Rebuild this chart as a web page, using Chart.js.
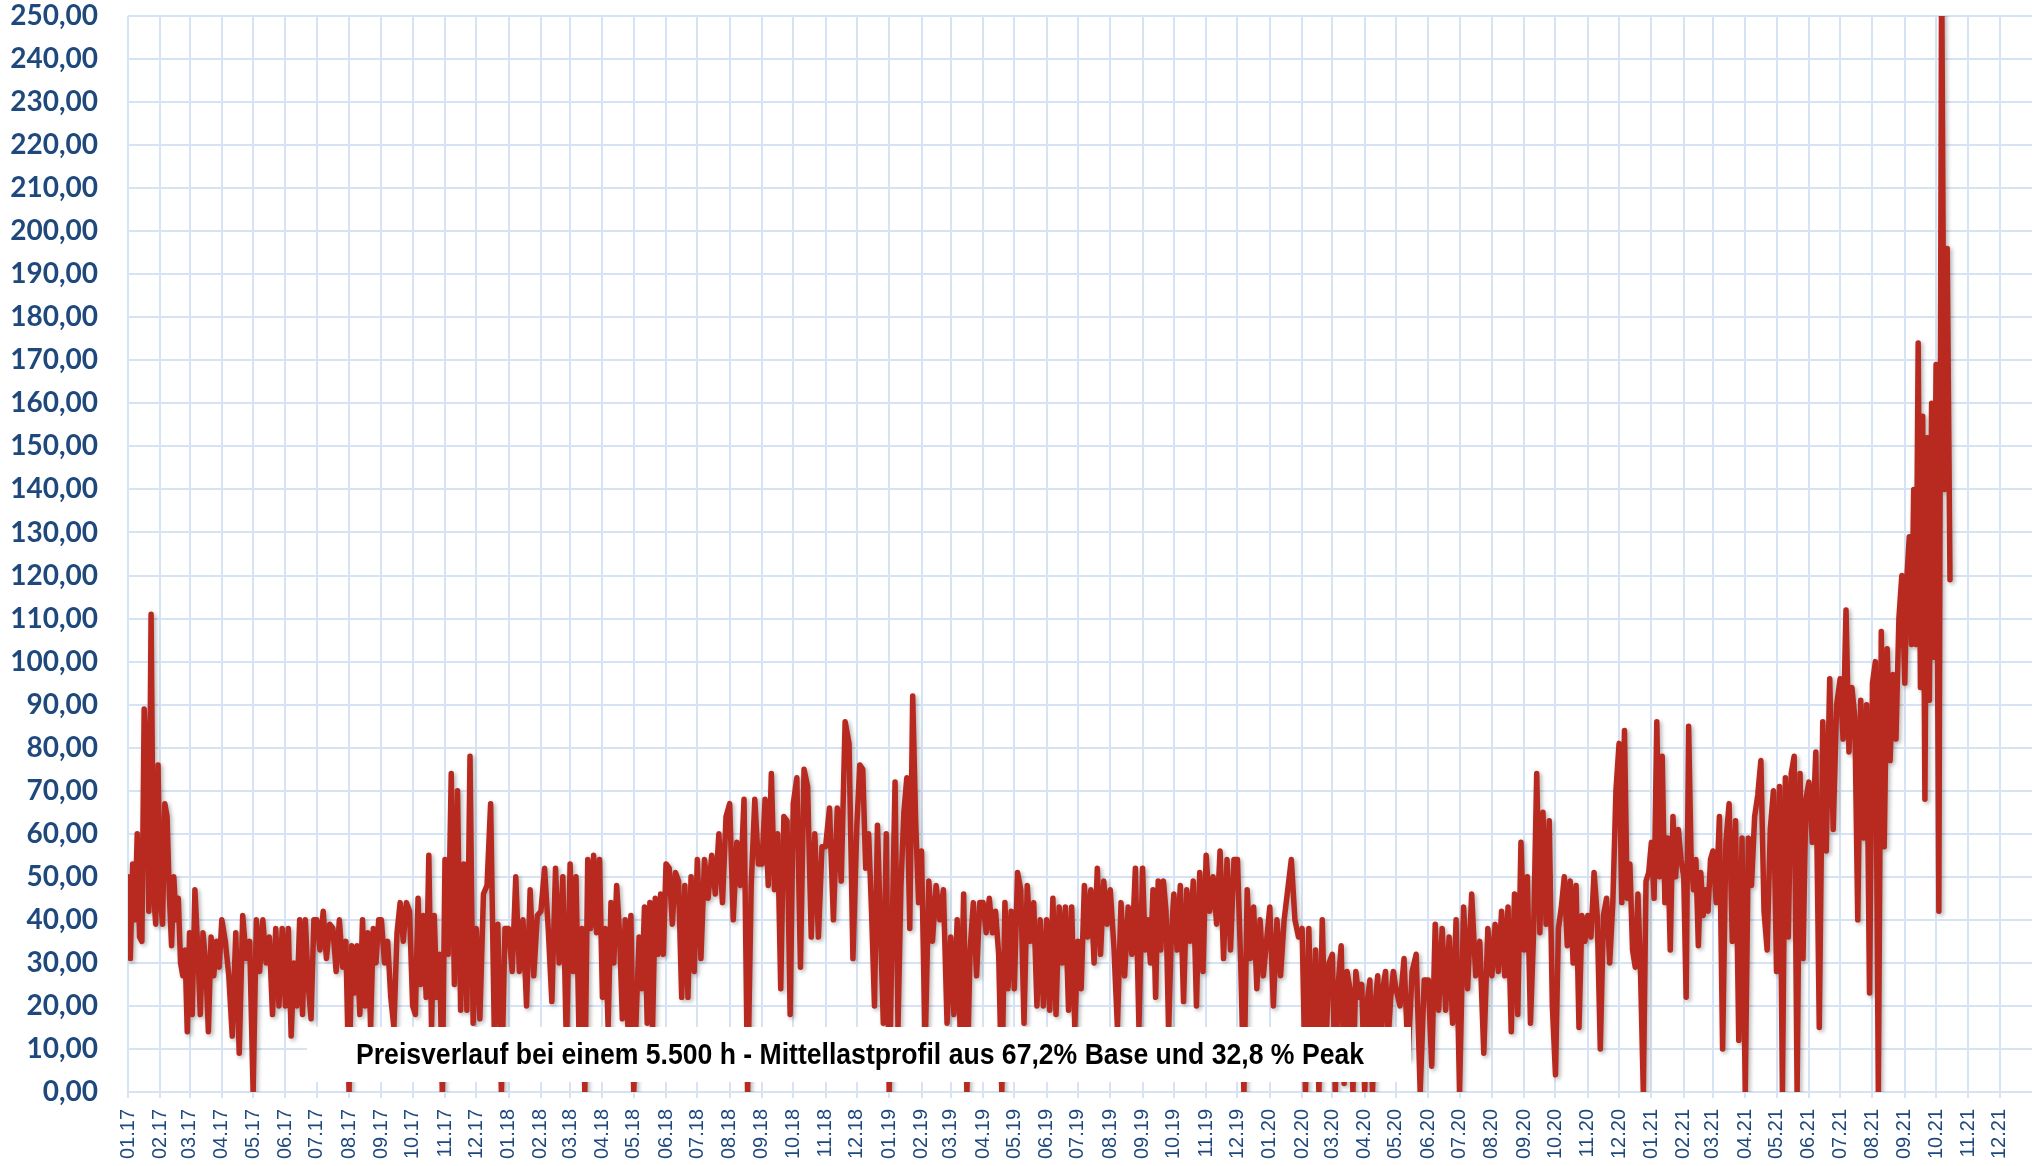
<!DOCTYPE html>
<html>
<head>
<meta charset="utf-8">
<title>Preisverlauf Mittellastprofil</title>
<script src="https://cdn.jsdelivr.net/npm/chart.js@4"></script>
<style>
  html, body { margin: 0; padding: 0; background: #ffffff; }
  #wrap { width: 2037px; height: 1166px; }
</style>
</head>
<body>
<div id="wrap"><canvas id="priceChart" width="2037" height="1166"></canvas></div>
<script>
// Years and month labels of the x axis
const years = [2017, 2018, 2019, 2020, 2021];
const monthNames = ['01', '02', '03', '04', '05', '06', '07', '08', '09', '10', '11', '12'];

// Price readings (EUR/MWh), one list per month, spread evenly over that month
const prices2017 = [
  [50, 31, 53, 40, 60, 36, 35, 89, 76, 42, 111, 47, 39, 76],
  [45, 39, 67, 64, 46, 34, 50, 40, 45, 30, 27, 33, 14],
  [37, 18, 47, 34, 18, 37, 30, 14, 36, 27, 35, 29],
  [40, 35, 27, 13, 37, 9, 41, 31, 35],
  [0, 40, 28, 40, 30, 36, 18, 38, 20, 38],
  [20, 38, 13, 30, 20, 40, 18, 40, 25, 17, 40],
  [40, 33, 42, 31, 39, 38, 28, 40, 29, 35],
  [0, 34, 23, 34, 18, 40, 20, 37, 15, 38, 30, 40],
  [40, 30, 35, 22, 15, 37, 44, 35, 44, 42],
  [20, 18, 45, 25, 41, 22, 55, 15, 41, 22, 32, 0],
  [54, 32, 74, 25, 70, 19, 53, 19, 78, 16],
  [38, 17, 46, 48, 67, 15, 39, 0, 38]
];
const prices2018 = [
  [38, 28, 50, 28, 40, 20, 47, 27, 41],
  [42, 52, 38, 21, 52, 30, 50, 10],
  [53, 28, 50, 14, 38, 0, 54, 38, 55, 37, 54],
  [22, 38, 15, 44, 30, 48, 37, 17, 40, 14, 41],
  [0, 19, 36, 24, 43, 16, 44, 15, 45, 32, 46, 32],
  [53, 52, 39, 51, 49, 22, 48, 22, 50, 28],
  [54, 31, 54, 45, 55, 46, 60, 44, 64],
  [67, 40, 58, 48, 68, 0, 48, 68, 53],
  [53, 68, 48, 74, 47, 60, 24, 64, 63, 18],
  [67, 73, 29, 75, 71, 36, 60, 36, 57],
  [57, 66, 40, 66, 49, 86, 81, 31],
  [62, 76, 75, 52, 60, 42, 20, 62, 39, 16, 60]
];
const prices2019 = [
  [0, 37, 72, 15, 48, 65, 73, 38, 92, 63, 44],
  [56, 10, 49, 35, 48, 40, 47, 16],
  [36, 18, 40, 12, 46, 0, 33, 44, 27, 44],
  [44, 37, 45, 37, 42, 32, 0, 44, 24, 42],
  [24, 51, 47, 16, 48, 35, 44, 20, 40, 20],
  [40, 19, 45, 18, 43, 30, 43, 19, 43, 15],
  [35, 24, 48, 36, 47, 30, 52, 32, 49, 39],
  [47, 34, 15, 44, 27, 43, 32, 52, 15],
  [52, 33, 40, 30, 47, 22, 49, 33, 49, 42, 14, 36],
  [46, 33, 48, 21, 47, 35, 49, 20, 51, 28],
  [55, 42, 50, 39, 56, 31, 54, 33, 54],
  [54, 30, 0, 47, 31, 43, 24, 40, 27, 35]
];
const prices2020 = [
  [43, 20, 40, 27, 40, 47, 54, 40, 36],
  [38, 0, 38, 5, 33, 0, 40, 8, 30],
  [32, 0, 25, 34, 2, 28, 24, 0, 28, 22, 25],
  [0, 21, 26, 0, 20, 27, 5, 24, 28, 12, 22, 28],
  [24, 20, 31, 8, 28, 32, 0, 26],
  [26, 6, 39, 19, 38, 19, 36, 16, 40],
  [0, 43, 24, 46, 27, 35, 9, 38],
  [27, 39, 28, 42, 27, 43, 14, 46, 18, 58],
  [33, 50, 16, 37, 74, 37, 65, 39, 63, 20],
  [4, 38, 43, 50, 34, 49, 30, 48, 15, 41, 35],
  [41, 36, 51, 41, 10, 41, 45, 30, 44, 70],
  [81, 44, 84, 45, 53, 33, 29, 46, 27, 0, 49, 51]
];
const prices2021 = [
  [58, 45, 86, 50, 78, 44, 59, 33, 64, 50, 61, 54],
  [50, 22, 85, 55, 47, 54, 34, 51, 41, 47, 42, 54],
  [56, 44, 64, 10, 58, 67, 35, 63, 12, 59],
  [0, 59, 48, 64, 69, 77, 42, 33, 61, 70],
  [28, 71, 0, 73, 36, 74, 78, 0, 74, 31, 68],
  [72, 58, 79, 15, 86, 56, 96, 61, 90],
  [96, 82, 112, 79, 94, 87, 40, 91, 59, 90, 23],
  [95, 100, 0, 107, 57, 103, 77, 97, 82, 110, 120],
  [95, 120, 129, 104, 140, 104, 174, 94, 157, 68, 152, 91, 160, 101],
  [169, 42, 262, 140, 196, 119]
];
const lastMonthSpan = 16; // the series stops mid October 2021

const caption = 'Preisverlauf bei einem 5.500 h - Mittellastprofil aus 67,2% Base und 32,8 % Peak';

const axisBlue = '#1F497D';
const gridBlue = '#D5E3F4';
const lineRed = '#B8291F';

// Day offsets from 1 Jan 2017
const DAY = 86400000;
const origin = Date.UTC(2017, 0, 1);
function dayOf(y, m) {
    return (Date.UTC(y, m, 1) - origin) / DAY;
}

// Build the points from the monthly lists
const allYears = [prices2017, prices2018, prices2019, prices2020, prices2021];
const points = [];
allYears.forEach((yearData, yi) => {
    yearData.forEach((monthVals, m) => {
        const start = dayOf(years[yi], m);
        let span = dayOf(years[yi], m + 1) - start;
        if (yi === allYears.length - 1 && m === yearData.length - 1) span = lastMonthSpan;
        monthVals.forEach((v, i) => {
            points.push({ x: start + i * span / monthVals.length, y: v });
        });
    });
});

// Month ticks and their labels
const tickDays = [];
const tickLabels = [];
years.forEach(y => {
    monthNames.forEach((mn, m) => {
        tickDays.push(dayOf(y, m));
        tickLabels.push(mn + '.' + String(y).slice(2));
    });
});

// Soft shadow under the line, like the original
const lineShadow = {
    id: 'lineShadow',
    beforeDatasetsDraw(chart) {
        const ctx = chart.ctx;
        ctx.save();
        ctx.shadowColor = 'rgba(0, 0, 0, 0.3)';
        ctx.shadowBlur = 4;
        ctx.shadowOffsetX = 2;
        ctx.shadowOffsetY = 2;
    },
    afterDatasetsDraw(chart) {
        chart.ctx.restore();
    }
};

// White caption box at the bottom of the plot
const captionBox = {
    id: 'captionBox',
    afterDraw(chart) {
        const ctx = chart.ctx;
        const area = chart.chartArea;
        const left = area.left + 179;
        const right = area.left + 1283;
        const top = area.bottom - 65;
        const bottom = area.bottom - 10;
        ctx.save();
        ctx.fillStyle = '#ffffff';
        ctx.fillRect(left, top, right - left, bottom - top);
        ctx.font = 'bold 29px "Liberation Sans", Arial, sans-serif';
        ctx.fillStyle = '#000000';
        ctx.textBaseline = 'middle';
        const w = ctx.measureText(caption).width;
        const target = 1008;
        const cx = area.left + 732;
        ctx.translate(cx, (top + bottom) / 2 + 1);
        ctx.scale(target / w, 1);
        ctx.textAlign = 'center';
        ctx.fillText(caption, 0, 0);
        ctx.restore();
    }
};

const ctx = document.getElementById('priceChart').getContext('2d');
window.priceChart = new Chart(ctx, {
    type: 'line',
    data: {
        datasets: [{
            data: points,
            borderColor: lineRed,
            borderWidth: 5.5,
            pointRadius: 0,
            tension: 0,
            borderJoinStyle: 'round',
            borderCapStyle: 'round',
            fill: false
        }]
    },
    options: {
        responsive: false,
        animation: false,
        devicePixelRatio: 1,
        layout: { padding: { left: 10, right: 0, top: 0, bottom: 0 } },
        scales: {
            x: {
                type: 'linear',
                min: 0,
                max: dayOf(2022, 0),
                afterBuildTicks: scale => {
                    scale.ticks = tickDays.map(v => ({ value: v }));
                },
                afterFit: scale => {
                    scale.height = 74;
                    scale.paddingLeft = 0;
                    scale.paddingRight = 5;
                },
                ticks: {
                    autoSkip: false,
                    minRotation: 90,
                    maxRotation: 90,
                    padding: 11,
                    color: axisBlue,
                    font: { family: '"Liberation Sans", Arial, sans-serif', size: 20 },
                    callback: (value, index) => tickLabels[index]
                },
                grid: { color: gridBlue, lineWidth: 2, tickLength: 6 },
                border: { display: false }
            },
            y: {
                min: 0,
                max: 250,
                afterFit: scale => {
                    scale.width = 118;
                    scale.paddingTop = 16;
                    scale.paddingBottom = 0;
                },
                ticks: {
                    stepSize: 10,
                    padding: 3,
                    color: axisBlue,
                    font: { family: 'Lato', weight: 'bold', size: 28 },
                    callback: value => value.toFixed(2).replace('.', ',')
                },
                grid: { color: gridBlue, lineWidth: 2, drawTicks: true, tickLength: 27, tickColor: 'rgba(0,0,0,0)' },
                border: { display: false }
            }
        },
        plugins: {
            legend: { display: false },
            tooltip: { enabled: false }
        }
    },
    plugins: [lineShadow, captionBox]
});
</script>
</body>
</html>
